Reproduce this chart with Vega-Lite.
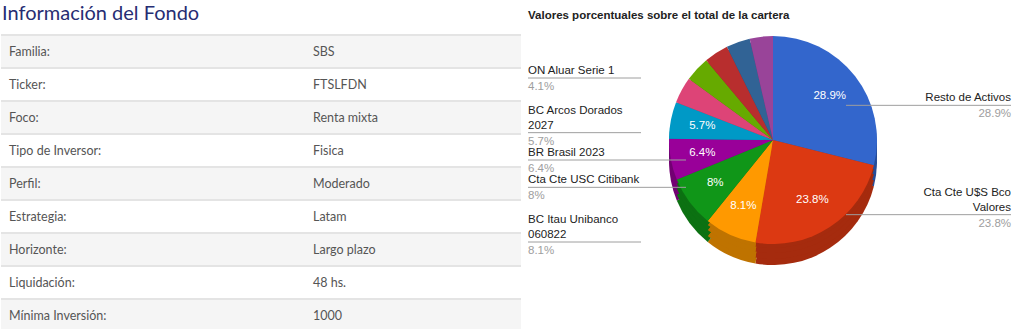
{
  "$schema": "https://vega.github.io/schema/vega-lite/v6.json",
  "padding": {"top": 4, "left": 0, "right": 0, "bottom": 0},
  "background": "white",
  "spacing": 0,
  "bounds": "flush",
  "config": {"view": {"stroke": null}, "concat": {"spacing": 0}},
  "datasets": {
    "tabla": [
      {"n": 1, "campo": "Familia:", "valor": "SBS"},
      {"n": 2, "campo": "Ticker:", "valor": "FTSLFDN"},
      {"n": 3, "campo": "Foco:", "valor": "Renta mixta"},
      {"n": 4, "campo": "Tipo de Inversor:", "valor": "Fisica"},
      {"n": 5, "campo": "Perfil:", "valor": "Moderado"},
      {"n": 6, "campo": "Estrategia:", "valor": "Latam"},
      {"n": 7, "campo": "Horizonte:", "valor": "Largo plazo"},
      {"n": 8, "campo": "Liquidación:", "valor": "48 hs."},
      {"n": 9, "campo": "Mínima Inversión:", "valor": "1000"}
    ],
    "cartera": [
      {"n": 1, "cat": "Resto de Activos", "value": 28.9},
      {"n": 2, "cat": "Cta Cte U$S Bco Valores", "value": 23.8},
      {"n": 3, "cat": "BC Itau Unibanco 060822", "value": 8.1},
      {"n": 4, "cat": "Cta Cte USC Citibank", "value": 8},
      {"n": 5, "cat": "BR Brasil 2023", "value": 6.4},
      {"n": 6, "cat": "BC Arcos Dorados 2027", "value": 5.7},
      {"n": 7, "cat": "ON Aluar Serie 1", "value": 4.1},
      {"n": 8, "cat": "Activo 8", "value": 3.9},
      {"n": 9, "cat": "Activo 9", "value": 3.8},
      {"n": 10, "cat": "Activo 10", "value": 3.7},
      {"n": 11, "cat": "Activo 11", "value": 3.6}
    ]
  },
  "hconcat": [
    {
      "width": 520,
      "height": 297,
      "title": {"text": "Información del Fondo", "anchor": "start", "font": "Lato", "fontSize": 20, "fontWeight": "normal", "color": "#272d73", "offset": 10, "dx": 2},
      "data": {"name": "tabla"},
      "encoding": {
        "y": {"field": "campo", "type": "nominal", "sort": {"field": "n", "op": "min"}, "axis": null, "scale": {"paddingInner": 0, "paddingOuter": 0}}
      },
      "layer": [
        {
          "mark": {"type": "rect"},
          "encoding": {
            "x": {"value": 0},
            "x2": {"value": "width"},
            "fill": {"condition": {"test": "datum.n % 2 == 1", "value": "#f5f5f5"}, "value": "#ffffff"}
          }
        },
        {
          "mark": {"type": "rule", "color": "#e4e4e4", "strokeWidth": 2},
          "encoding": {
            "y": {"field": "campo", "type": "nominal", "sort": {"field": "n", "op": "min"}, "bandPosition": 0}
          }
        },
        {
          "mark": {"type": "text", "align": "left", "baseline": "middle", "font": "Lato", "fontSize": 12.5, "color": "#555555"},
          "encoding": {"x": {"value": 8}, "text": {"field": "campo"}}
        },
        {
          "mark": {"type": "text", "align": "left", "baseline": "middle", "font": "Lato", "fontSize": 12.5, "color": "#555555"},
          "encoding": {"x": {"value": 312}, "text": {"field": "valor"}}
        }
      ]
    },
    {
      "width": 504,
      "height": 210,
      "title": {"text": "Valores porcentuales sobre el total de la cartera", "anchor": "start", "font": "Liberation Sans", "fontSize": 11.5, "fontWeight": "bold", "color": "#222222", "offset": 14, "dx": 7},
      "data": {"name": "cartera"},
      "transform": [
        {"calculate": "datum.value + '%'", "as": "pct"},
        {"calculate": "length(datum.cat) > 20 ? replace(datum.cat, regexp(' \\\\S+$'), '') : ''", "as": "linea1"},
        {"calculate": "length(datum.cat) > 20 ? replace(datum.cat, regexp('^.* '), '') : datum.cat", "as": "linea2"}
      ],
      "resolve": {"scale": {"color": "independent"}},
      "layer": [
        {
          "mark": {"type": "arc", "outerRadius": 104, "yOffset": 21},
          "encoding": {
            "theta": {"field": "value", "type": "quantitative", "stack": true},
            "order": {"field": "n", "type": "quantitative"},
            "color": {"field": "cat", "type": "nominal", "legend": null, "sort": {"field": "n", "op": "min"},
              "scale": {"range": ["#264d99", "#a52b0e", "#bf7300", "#0c7112", "#730073", "#007395", "#a6334d", "#4d8000", "#8a2323", "#254a70", "#733373"]}}
          }
        },
        {
          "mark": {"type": "arc", "outerRadius": 104, "yOffset": 15},
          "encoding": {
            "theta": {"field": "value", "type": "quantitative", "stack": true},
            "order": {"field": "n", "type": "quantitative"},
            "color": {"field": "cat", "type": "nominal", "legend": null, "sort": {"field": "n", "op": "min"},
              "scale": {"range": ["#264d99", "#a52b0e", "#bf7300", "#0c7112", "#730073", "#007395", "#a6334d", "#4d8000", "#8a2323", "#254a70", "#733373"]}}
          }
        },
        {
          "mark": {"type": "arc", "outerRadius": 104, "yOffset": 9},
          "encoding": {
            "theta": {"field": "value", "type": "quantitative", "stack": true},
            "order": {"field": "n", "type": "quantitative"},
            "color": {"field": "cat", "type": "nominal", "legend": null, "sort": {"field": "n", "op": "min"},
              "scale": {"range": ["#264d99", "#a52b0e", "#bf7300", "#0c7112", "#730073", "#007395", "#a6334d", "#4d8000", "#8a2323", "#254a70", "#733373"]}}
          }
        },
        {
          "mark": {"type": "arc", "outerRadius": 104, "yOffset": 4},
          "encoding": {
            "theta": {"field": "value", "type": "quantitative", "stack": true},
            "order": {"field": "n", "type": "quantitative"},
            "color": {"field": "cat", "type": "nominal", "legend": null, "sort": {"field": "n", "op": "min"},
              "scale": {"range": ["#264d99", "#a52b0e", "#bf7300", "#0c7112", "#730073", "#007395", "#a6334d", "#4d8000", "#8a2323", "#254a70", "#733373"]}}
          }
        },
        {
          "mark": {"type": "arc", "outerRadius": 104},
          "encoding": {
            "theta": {"field": "value", "type": "quantitative", "stack": true},
            "order": {"field": "n", "type": "quantitative"},
            "color": {"field": "cat", "type": "nominal", "legend": null, "sort": {"field": "n", "op": "min"},
              "scale": {"range": ["#3366cc", "#dc3912", "#ff9900", "#109618", "#990099", "#0099c6", "#dd4477", "#66aa00", "#b82e2e", "#316395", "#994499"]}}
          }
        },
        {
          "mark": {"type": "text", "radius": 72, "font": "Liberation Sans", "fontSize": 11.5, "color": "white"},
          "encoding": {
            "theta": {"field": "value", "type": "quantitative", "stack": true},
            "order": {"field": "n", "type": "quantitative"},
            "text": {"condition": {"test": "datum.value >= 5", "field": "pct"}, "value": ""}
          }
        },
        {
          "transform": [{"filter": {"field": "cat", "oneOf": ["ON Aluar Serie 1", "BC Arcos Dorados 2027", "BR Brasil 2023", "Cta Cte USC Citibank", "BC Itau Unibanco 060822"]}}],
          "mark": {"type": "rule", "color": "#9e9e9e", "strokeWidth": 1},
          "encoding": {
            "x": {"value": 7},
            "x2": {"value": 120},
            "y": {"field": "cat", "type": "nominal", "axis": null, "scale": {"type": "point", "padding": 0, "range": [43, 207], "domain": ["ON Aluar Serie 1", "Resto de Activos", "BC Arcos Dorados 2027", "BR Brasil 2023", "Cta Cte USC Citibank", "Cta Cte U$S Bco Valores", "BC Itau Unibanco 060822"]}}
          }
        },
        {
          "transform": [{"filter": {"field": "cat", "oneOf": ["BR Brasil 2023", "Cta Cte USC Citibank"]}}],
          "mark": {"type": "rule", "color": "#9e9e9e", "strokeWidth": 1},
          "encoding": {
            "x": {"value": 120},
            "x2": {"value": 165},
            "y": {"field": "cat", "type": "nominal"}
          }
        },
        {
          "transform": [{"filter": {"field": "cat", "oneOf": ["Resto de Activos", "Cta Cte U$S Bco Valores"]}}],
          "mark": {"type": "rule", "color": "#9e9e9e", "strokeWidth": 1},
          "encoding": {
            "x": {"value": 325},
            "x2": {"value": 490},
            "y": {"field": "cat", "type": "nominal"}
          }
        },
        {
          "transform": [{"filter": {"field": "cat", "oneOf": ["ON Aluar Serie 1", "BC Arcos Dorados 2027", "BR Brasil 2023", "Cta Cte USC Citibank", "BC Itau Unibanco 060822"]}}],
          "mark": {"type": "text", "align": "left", "baseline": "bottom", "dy": -17, "font": "Liberation Sans", "fontSize": 11.5, "color": "#222222"},
          "encoding": {"x": {"value": 7}, "y": {"field": "cat", "type": "nominal"}, "text": {"field": "linea1"}}
        },
        {
          "transform": [{"filter": {"field": "cat", "oneOf": ["ON Aluar Serie 1", "BC Arcos Dorados 2027", "BR Brasil 2023", "Cta Cte USC Citibank", "BC Itau Unibanco 060822"]}}],
          "mark": {"type": "text", "align": "left", "baseline": "bottom", "dy": -2, "font": "Liberation Sans", "fontSize": 11.5, "color": "#222222"},
          "encoding": {"x": {"value": 7}, "y": {"field": "cat", "type": "nominal"}, "text": {"field": "linea2"}}
        },
        {
          "transform": [{"filter": {"field": "cat", "oneOf": ["ON Aluar Serie 1", "BC Arcos Dorados 2027", "BR Brasil 2023", "Cta Cte USC Citibank", "BC Itau Unibanco 060822"]}}],
          "mark": {"type": "text", "align": "left", "baseline": "top", "dy": 3, "font": "Liberation Sans", "fontSize": 11.5, "color": "#9e9e9e"},
          "encoding": {"x": {"value": 7}, "y": {"field": "cat", "type": "nominal"}, "text": {"field": "pct"}}
        },
        {
          "transform": [{"filter": {"field": "cat", "oneOf": ["Resto de Activos", "Cta Cte U$S Bco Valores"]}}],
          "mark": {"type": "text", "align": "right", "baseline": "bottom", "dy": -17, "font": "Liberation Sans", "fontSize": 11.5, "color": "#222222"},
          "encoding": {"x": {"value": 490}, "y": {"field": "cat", "type": "nominal"}, "text": {"field": "linea1"}}
        },
        {
          "transform": [{"filter": {"field": "cat", "oneOf": ["Resto de Activos", "Cta Cte U$S Bco Valores"]}}],
          "mark": {"type": "text", "align": "right", "baseline": "bottom", "dy": -2, "font": "Liberation Sans", "fontSize": 11.5, "color": "#222222"},
          "encoding": {"x": {"value": 490}, "y": {"field": "cat", "type": "nominal"}, "text": {"field": "linea2"}}
        },
        {
          "transform": [{"filter": {"field": "cat", "oneOf": ["Resto de Activos", "Cta Cte U$S Bco Valores"]}}],
          "mark": {"type": "text", "align": "right", "baseline": "top", "dy": 3, "font": "Liberation Sans", "fontSize": 11.5, "color": "#9e9e9e"},
          "encoding": {"x": {"value": 490}, "y": {"field": "cat", "type": "nominal"}, "text": {"field": "pct"}}
        }
      ]
    }
  ]
}
